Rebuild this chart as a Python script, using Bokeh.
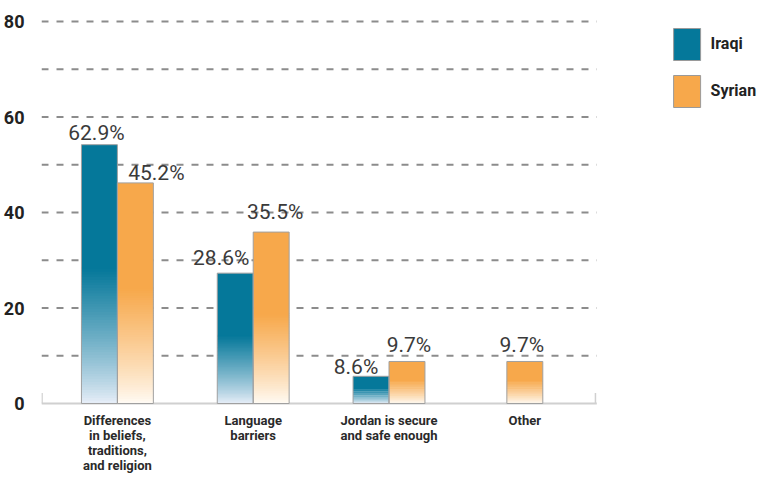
import numpy as np
from bokeh.plotting import figure
from bokeh.models import Range1d, FixedTicker, ColumnDataSource
from bokeh.core.properties import value
from bokeh.embed import file_html
from bokeh.resources import INLINE

# ---------------- data ----------------
CATEGORIES = ["Differences in beliefs, traditions, and religion", "Language barriers",
              "Jordan is secure and safe enough", "Other"]
CATEGORY_TICK_LABELS = ["Differences\nin beliefs,\ntraditions,\nand religion", "Language\nbarriers",
                        "Jordan is secure\nand safe enough", "Other"]
SERIES = ["Iraqi", "Syrian"]
IRAQI = [54.2, 27.3, 5.7, None]          # bar heights as drawn
SYRIAN = [46.2, 35.9, 8.8, 8.8]
IRAQI_LABELS = ["62.9%", "28.6%", "8.6%", None]
SYRIAN_LABELS = ["45.2%", "35.5%", "9.7%", "9.7%"]
Y_TICKS = [0, 20, 40, 60, 80]
GRID_LINES = [10, 20, 30, 40, 50, 60, 70, 80]

# ---------------- layout / style ----------------
FONT = "Roboto"
W, H = 758, 474
FRAME_LEFT, FRAME_TOP = 40, 14
ZERO_PX = 403            # figure px of the zero line
CAT_PX = 136.0
FIRST_CENTER_PX = 76.0
FRAME_W = W - FRAME_LEFT
PX_PER_UNIT = 4.775
BAR_W = 36.0 / CAT_PX
GRID_END_OFFSET = 0.53
COLORS = {"Iraqi": "#05789a", "Syrian": "#f7a84b"}
FADE_COLORS = {"Iraqi": "#eaeff9", "Syrian": "#fffcf6"}
SOLID_FRACTION = 0.48   # top part of each bar that is solid
N_SLICES = 50
LABEL_GAP = [[12, 10], [15, 20], [9, 16], [16, 16]]
LABEL_NUDGE = [[-3, 21], [-14, 4], [-15, 2], [0, -3]]

x_start = -FIRST_CENTER_PX / CAT_PX
x_end = x_start + FRAME_W / CAT_PX
y_end = (ZERO_PX - FRAME_TOP) / PX_PER_UNIT
y_start = -(H - ZERO_PX) / PX_PER_UNIT


def px_to_x(fx):   # figure px -> data x
    return x_start + (fx - FRAME_LEFT) / CAT_PX


def px_to_y(fy):   # figure px -> data y
    return (ZERO_PX - fy) / PX_PER_UNIT


p = figure(width=W, height=H, output_backend="svg", toolbar_location=None,
           x_range=Range1d(x_start, x_end), y_range=Range1d(y_start, y_end),
           min_border_left=FRAME_LEFT, min_border_right=0, min_border_top=FRAME_TOP,
           min_border_bottom=0)
p.outline_line_color = None
p.xgrid.visible = False
p.ygrid.visible = False
p.xaxis.visible = False
p.background_fill_color = "white"

# gridlines (dashed)
grid_x_end = (len(CATEGORIES) - 1) + GRID_END_OFFSET
p.segment(x0=[x_start] * len(GRID_LINES), x1=[grid_x_end] * len(GRID_LINES),
          y0=GRID_LINES, y1=GRID_LINES, line_color="#8c8c8c", line_width=2, line_dash="7 8")
# baseline
p.segment(x0=[x_start], x1=[grid_x_end], y0=[0], y1=[0], line_color="#d0d0d0", line_width=2)
p.segment(x0=[x_start + 0.004, grid_x_end - 0.01], x1=[x_start + 0.004, grid_x_end - 0.01],
          y0=[0, 0], y1=[2.2, 2.2], line_color="#d0d0d0", line_width=1.5)


def hex2rgb(h):
    h = h.lstrip("#")
    return np.array([int(h[i:i + 2], 16) for i in (0, 2, 4)], dtype=float)


def rgb2hex(c):
    c = np.clip(np.round(c), 0, 255).astype(int)
    return "#%02x%02x%02x" % tuple(c)


slices = dict(left=[], right=[], bottom=[], top=[], color=[])
outline = dict(left=[], right=[], bottom=[], top=[])
labels = dict(x=[], y=[], text=[], xo=[], yo=[])

for i, cat in enumerate(CATEGORIES):
    vals = {"Iraqi": IRAQI[i], "Syrian": SYRIAN[i]}
    labs = {"Iraqi": IRAQI_LABELS[i], "Syrian": SYRIAN_LABELS[i]}
    present = [s for s in SERIES if vals[s] is not None]
    for s in present:
        k = SERIES.index(s)
        if len(present) == 2:
            left = i - BAR_W if k == 0 else i
        else:
            left = i - BAR_W / 2
        right = left + BAR_W
        h = vals[s]
        top_c = hex2rgb(COLORS[s])
        bot_c = hex2rgb(FADE_COLORS[s])
        fade_h = h * (1 - SOLID_FRACTION)
        dh = fade_h / N_SLICES
        for n in range(N_SLICES):
            t = (n + 0.5) / N_SLICES
            c = bot_c + (top_c - bot_c) * (t ** 0.85)
            slices["left"].append(left)
            slices["right"].append(right)
            slices["bottom"].append(n * dh)
            slices["top"].append((n + 1) * dh + dh * 0.7)
            slices["color"].append(rgb2hex(c))
        slices["left"].append(left)
        slices["right"].append(right)
        slices["bottom"].append(fade_h)
        slices["top"].append(h)
        slices["color"].append(COLORS[s])
        outline["left"].append(left)
        outline["right"].append(right)
        outline["bottom"].append(0)
        outline["top"].append(h)
        labels["x"].append((left + right) / 2)
        labels["y"].append(h)
        labels["text"].append(labs[s])
        labels["xo"].append(LABEL_NUDGE[i][k])
        labels["yo"].append(-LABEL_GAP[i][k])

p.quad(source=ColumnDataSource(slices), left="left", right="right", bottom="bottom", top="top",
       fill_color="color", line_color=None)
p.quad(source=ColumnDataSource(outline), left="left", right="right", bottom="bottom", top="top",
       fill_color=None, line_color="#a0a0a0", line_width=1)

p.text(source=ColumnDataSource(labels), x="x", y="y", text="text", x_offset="xo", y_offset="yo",
       text_font=value(FONT), text_font_size="21px", text_color="#3a3a3a",
       text_align="center", text_baseline="alphabetic")

# category labels below the zero line
p.text(x=list(range(len(CATEGORIES))), y=[0] * len(CATEGORIES), text=CATEGORY_TICK_LABELS,
       y_offset=9, text_font=value(FONT), text_font_style="bold", text_font_size="13px",
       text_color="#2a2a2a", text_align="center", text_baseline="top", text_line_height=1.0)

# y axis
p.yaxis.ticker = FixedTicker(ticks=Y_TICKS)
p.yaxis.axis_line_color = None
p.yaxis.major_tick_line_color = None
p.yaxis.minor_tick_line_color = None
p.yaxis.major_label_standoff = 11
p.yaxis.major_label_text_font = FONT
p.yaxis.major_label_text_font_style = "bold"
p.yaxis.major_label_text_font_size = "18px"
p.yaxis.major_label_text_color = "#222222"

# legend (drawn in the free area right of the chart)
LEG_SWATCH_X = 686.5      # figure px
LEG_SWATCH_Y = [44, 91]
LEG_TEXT_X = 710
p.rect(x=[px_to_x(LEG_SWATCH_X)] * 2, y=[px_to_y(v) for v in LEG_SWATCH_Y],
       width=27, height=32, width_units="screen", height_units="screen",
       fill_color=[COLORS[s] for s in SERIES], line_color="#9a9a9a", line_width=1)
p.text(x=[px_to_x(LEG_TEXT_X)] * 2, y=[px_to_y(v - 1) for v in LEG_SWATCH_Y], text=SERIES,
       text_font=value(FONT), text_font_style="bold", text_font_size="16px",
       text_color="#222222", text_align="left", text_baseline="alphabetic")

open("out.html", "w").write(file_html(p, INLINE))
